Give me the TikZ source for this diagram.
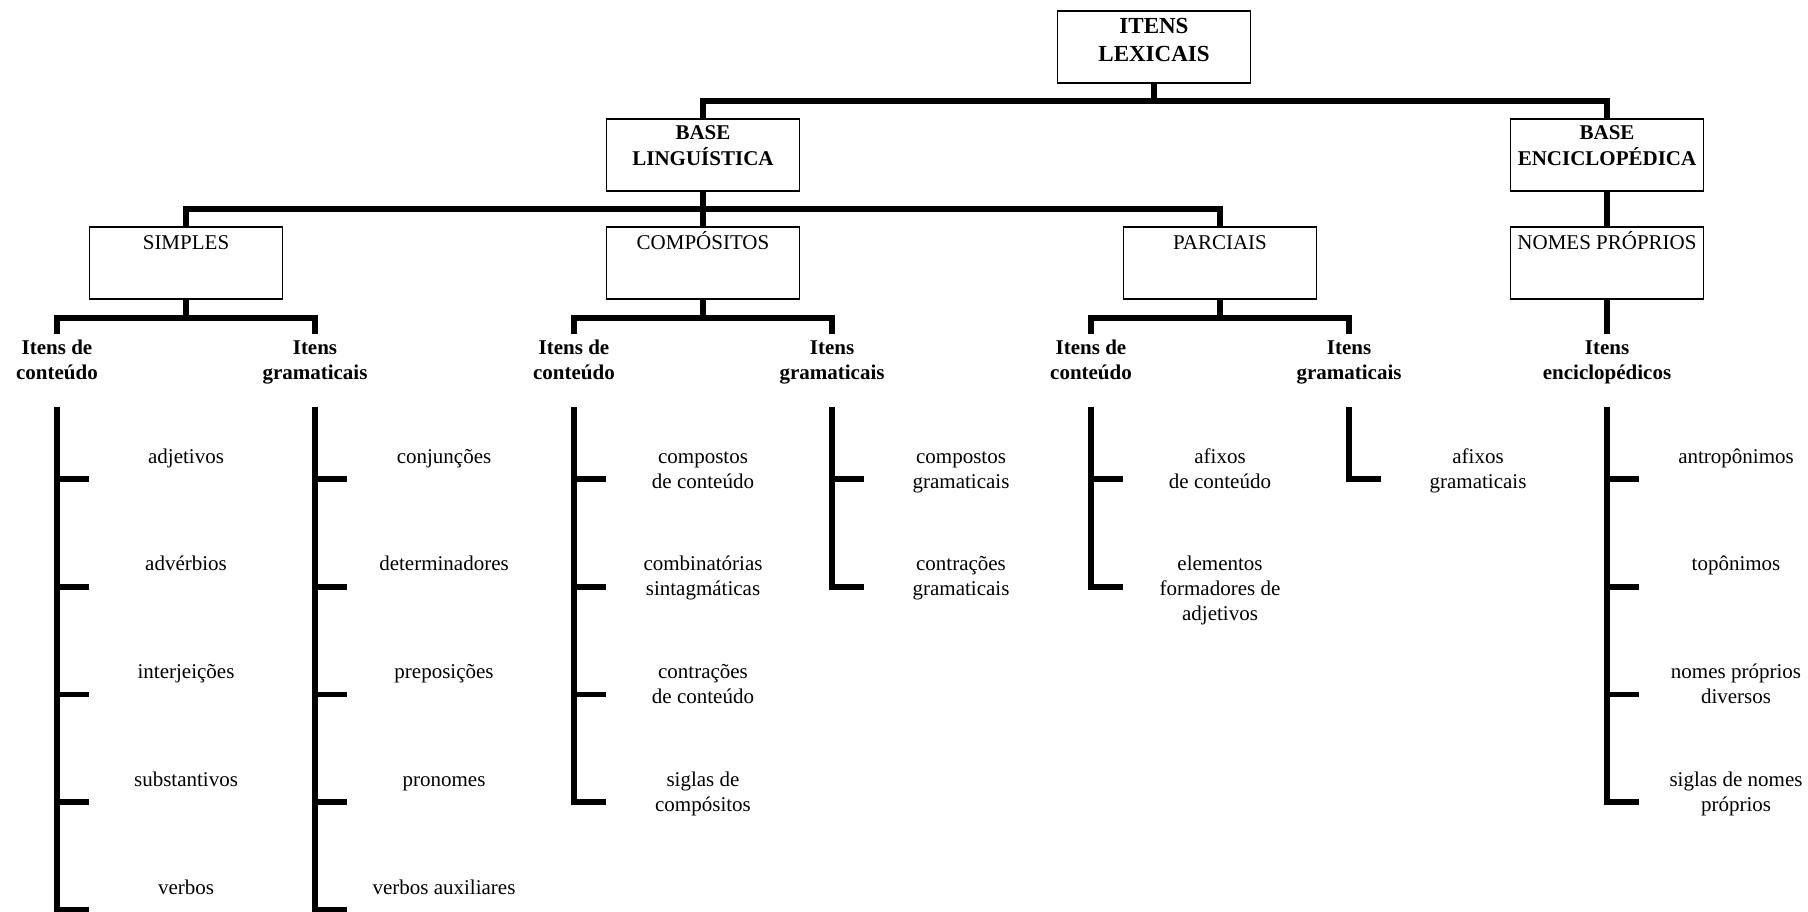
\documentclass[tikz,border=0pt]{standalone}
\usepackage{fontspec}
\setmainfont{Liberation Serif}

% centred lines, with the baseline of the whole block on its first line
\newcommand\toplines[1]{\begin{tabular}[t]{@{}c@{}}#1\end{tabular}}

% one vertical column of entries: name, x of the column, list of entries
\newcommand\itemcolumn[3]{%
  \coordinate (#1-top) at (#2,407);
  \foreach \txt [count=\k] in {#3} {
    \coordinate (#1-t\k) at ({#2},{479+107.75*(\k-1)});
    \node[item] (#1-\k) at ({#2+129},{463+107.75*(\k-1)}) {\toplines{\txt}};
    \draw[bar] (#1-t\k) -- ++(32,0);
    \xdef\lastk{\k}
  }
  \draw[bar] (#1-top) -- ([yshift=-1.45pt]#1-t\lastk);
}

\begin{document}
\begin{tikzpicture}[x=0.5pt,y=-0.5pt,
  box/.style={draw, line width=0.9pt, minimum width=96.5pt, minimum height=36pt, inner sep=0pt},
  bar/.style={line width=2.9pt},
  toptxt/.style={anchor=base, inner sep=0pt,
    font=\fontsize{10.5}{12.9}\selectfont\bfseries},
  boxtxt/.style={anchor=base, inner sep=0pt, font=\fontsize{10.5}{12.5}\selectfont},
  cat/.style={anchor=base, inner ysep=1pt, inner xsep=0pt,
    font=\fontsize{10.5}{12.5}\selectfont\bfseries},
  item/.style={anchor=base, inner sep=0pt,
    font=\fontsize{10.5}{12.5}\selectfont}
]
\fill[white] (0,0) rectangle (1808,911);
\useasboundingbox (0,0) rectangle (1808,911);

% top level
\node[box] (itens) at (1154,46.7) {};
\node[toptxt, font=\fontsize{11.5}{14}\selectfont\bfseries] (itens-t) at (1154,33.5) {\toplines{ITENS\\LEXICAIS}};

% bases
\node[box] (bling) at (703,154.6) {};
\node[toptxt] (bling-t) at (703,139.3) {\toplines{BASE\\LINGUÍSTICA}};
\node[box] (benc) at (1607,154.6) {};
\node[toptxt] (benc-t) at (1607,139.3) {\toplines{BASE\\ENCICLOPÉDICA}};

% second row
\node[box] (simples) at (186,262.8) {};
\node[boxtxt] (simples-t) at (186,249) {SIMPLES};
\node[box] (comp) at (703,262.8) {};
\node[boxtxt] (comp-t) at (703,249) {COMPÓSITOS};
\node[box] (parc) at (1220,262.8) {};
\node[boxtxt] (parc-t) at (1220,249) {PARCIAIS};
\node[box] (nomes) at (1607,262.8) {};
\node[boxtxt] (nomes-t) at (1607,249) {NOMES PRÓPRIOS};

% connectors between levels
\coordinate (j1) at (1154,101);
\draw[bar] (itens.south) -- (j1);
\draw[bar] (bling.north) -- (bling.north |- j1) -- (benc.north |- j1) -- (benc.north);

\coordinate (j2) at (703,209);
\draw[bar] (bling.south) -- (comp.north);
\draw[bar] (simples.north) -- (simples.north |- j2) -- (parc.north |- j2) -- (parc.north);
\draw[bar] (benc.south) -- (nomes.north);

% category labels
\node[cat] (simples-c) at (57,354) {\toplines{Itens de\\conteúdo}};
\node[cat] (simples-g) at (315,354) {\toplines{Itens\\gramaticais}};
\node[cat] (comp-c) at (574,354) {\toplines{Itens de\\conteúdo}};
\node[cat] (comp-g) at (832,354) {\toplines{Itens\\gramaticais}};
\node[cat] (parc-c) at (1091,354) {\toplines{Itens de\\conteúdo}};
\node[cat] (parc-g) at (1349,354) {\toplines{Itens\\gramaticais}};
\node[cat] (nomes-e) at (1607,354) {\toplines{Itens\\enciclopédicos}};

\foreach \g in {simples,comp,parc} {
  \coordinate (\g-j) at ([yshift=-9pt]\g.south);
  \draw[bar] (\g.south) -- (\g-j);
  \draw[bar] (\g-c.north) -- (\g-c.north |- \g-j) -- (\g-g.north |- \g-j) -- (\g-g.north);
}
\draw[bar] (nomes.south) -- (nomes-e.north);

% entry columns
\itemcolumn{sl}{57}{adjetivos, advérbios, interjeições, substantivos, verbos}
\itemcolumn{sr}{315}{conjunções, determinadores, preposições, pronomes, verbos auxiliares}
\itemcolumn{cl}{574}{{compostos\\de conteúdo}, {combinatórias\\sintagmáticas}, {contrações\\de conteúdo}, {siglas de\\compósitos}}
\itemcolumn{cr}{832}{{compostos\\gramaticais}, {contrações\\gramaticais}}
\itemcolumn{pl}{1091}{{afixos\\de conteúdo}, {elementos\\formadores de\\adjetivos}}
\itemcolumn{pr}{1349}{{afixos\\gramaticais}}
\itemcolumn{nl}{1607}{antropônimos, topônimos, {nomes próprios\\diversos}, {siglas de nomes\\próprios}}
\end{tikzpicture}
\end{document}
